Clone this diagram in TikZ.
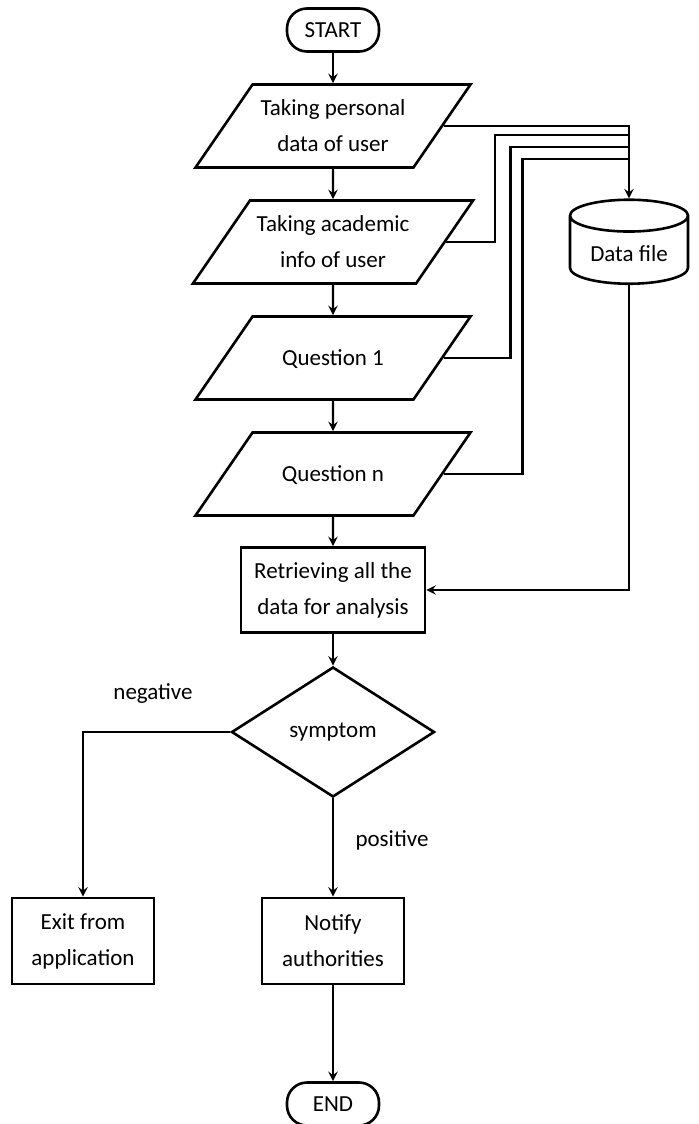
\documentclass[tikz,border=0pt]{standalone}
\usepackage{fontspec}
\setmainfont{Carlito}
\usepackage{tikz}
\usetikzlibrary{arrows,shapes,positioning}
\newcommand{\iolines}[1]{\begin{tabular}{@{}c@{}}#1\end{tabular}}

\begin{document}
\begin{tikzpicture}[x=0.5pt,y=-0.5pt,>=stealth,font=\fontsize{11.5}{18}\selectfont]
        \tikzstyle{term}=[draw,line width=1.3pt,rounded corners=10pt,minimum width=46pt,minimum height=21.5pt]
        \tikzstyle{io}=[draw,line width=1.3pt,trapezium,trapezium left angle=55.5,trapezium right angle=124.5,trapezium stretches body,minimum width=137.5pt,text height=15.8pt,text depth=10pt,inner ysep=7.85pt]
        \tikzstyle{proc}=[draw,line width=1.3pt,minimum width=71pt,minimum height=43pt,align=center]
        \tikzstyle{db}=[draw,line width=1.3pt,cylinder,shape border rotate=90,aspect=0.35,minimum width=59pt,minimum height=42pt]
        \tikzstyle{line}=[line width=1.1pt]
        \tikzstyle{arrow}=[line width=1.1pt,->]
        \useasboundingbox (0,0) rectangle (699,1124);

        \node[term](start) at (333,30){START};
        \node[io](in1)[below of=start,node distance=48pt]{\iolines{Taking personal\\data of user}};
        \node[io](in2)[below of=in1,node distance=58pt]{\iolines{Taking academic\\info of user}};
        \node[io](in3)[below of=in2,node distance=58pt]{\iolines{Question 1}};
        \node[io](in4)[below of=in3,node distance=58pt]{\iolines{Question n}};
        \node[proc,minimum width=92pt,minimum height=42.5pt](retr)[below of=in4,node distance=58pt]{Retrieving all the\\data for analysis};
        \node[db](data)[right of=in2,node distance=148pt,yshift=-6pt]{Data file};

        \node[diamond,draw,line width=1.3pt,aspect=1.56,minimum width=101.5pt,minimum height=65pt,inner sep=0pt](dec)[below of=retr,node distance=71pt]{symptom};
        \node[proc](notify)[below of=dec,node distance=104.5pt]{Notify\\authorities};
        \node[proc](exit)[left of=notify,node distance=125pt]{Exit from\\application};
        \node[term](stop)[below of=notify,node distance=81.5pt]{END};

        \node(neg) at (153,694){negative};
        \node(pos) at (392,840){positive};

        % main flow
        \draw[arrow] (start) -- (in1);
        \draw[arrow] (in1) -- (in2);
        \draw[arrow] (in2) -- (in3);
        \draw[arrow] (in3) -- (in4);
        \draw[arrow] (in4) -- (retr);
        \draw[arrow] (retr) -- (dec);
        \draw[arrow] (dec.west) -| (exit.north);
        \draw[arrow] (dec) -- (notify);
        \draw[arrow] (notify) -- (stop);

        % storing to the data file
        \coordinate (j2) at (629,135);
        \coordinate (j3) at (629,147);
        \coordinate (j4) at (629,159);
        \draw[arrow] (in1.east) -| (data.north);
        \draw[line] (in2.east) -- ++(49,0) |- (j2);
        \draw[line] (in3.east) -- ++(67,0) |- (j3);
        \draw[line] (in4.east) -- ++(79,0) |- (j4);
        \draw[arrow] (data.south) |- (retr.east);
\end{tikzpicture}
\end{document}
